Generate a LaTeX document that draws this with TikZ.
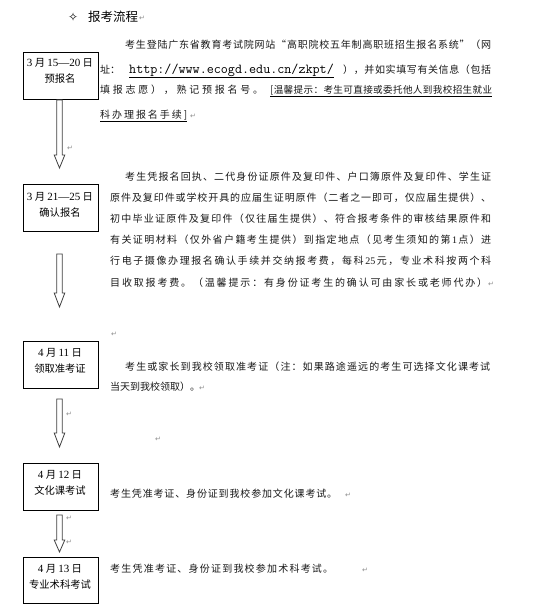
\documentclass[tikz,border=0pt]{standalone}
\usepackage{fontspec}
\newfontfamily\cjk{Noto Sans CJK SC}
\newfontfamily\tms{Liberation Serif}
\newfontfamily\symf{DejaVu Sans}
\usetikzlibrary{calc}
\ExplSyntaxOn
\NewDocumentCommand\spreadtxt{m}
  {
    \bool_set_false:N \l_tmpa_bool
    \tl_map_inline:nn {#1}
      {
        \bool_if:NT \l_tmpa_bool { \hfil }
        \bool_set_true:N \l_tmpa_bool
        {##1}
      }
  }
\ExplSyntaxOff
\tikzset{
  stepbox/.style={draw=black, line width=0.8pt, minimum width=75pt, minimum height=47pt, inner sep=0pt},
  boxtxt/.style={align=center, inner sep=0pt, font=\cjk\fontsize{10.3}{16}\selectfont},
  txt/.style={anchor=base west, inner sep=0pt, font=\cjk\fontsize{10}{12}\selectfont, text=black!90},
  pm/.style={anchor=base west, inner sep=0pt, font=\symf\fontsize{7}{8}\selectfont, text=black!45},
  uline/.style={draw=black, line width=0.7pt},
  barrow/.style={draw=black!75, fill=white, line width=0.8pt, line join=miter}
}
\newcommand\txtline[4]{\node[txt] (#1) at (#2) {\makebox[#3pt][s]{\spreadtxt{#4}}};}
\newcommand\blockarr[4]{% name, top y, head y, tip y
  \coordinate (#1s) at (59.5,#2);
  \coordinate (#1e) at (59.5,#4);
  \draw[barrow] ($(#1s)+(-2.8,0)$) -- ($(#1s)+(2.8,0)$) -- (62.3,#3) -- (64.8,#3) -- (#1e) -- (54.2,#3) -- (56.7,#3) -- cycle;}
\begin{document}
\begin{tikzpicture}[x=1pt,y=-1pt]
\useasboundingbox[fill=white] (0,0) rectangle (558,604);

% title
\node[anchor=base west, inner sep=0pt, font=\symf\fontsize{12}{12}\selectfont] (bullet) at (68,22) {✧};
\node[anchor=base west, inner sep=0pt, font=\cjk\fontsize{12.5}{14}\selectfont] (title) at (88,22) {报考流程};
\node[pm] (pmt) at (139,21) {↵};

% boxes
\node[stepbox] (b1) at (60.5,75.5) {};
\node[stepbox] (b2) at (60.5,208) {};
\node[stepbox] (b3) at (60.5,364.5) {};
\node[stepbox] (b4) at (60.5,487) {};
\node[stepbox, minimum height=46pt] (b5) at (60.5,580) {};

\node[boxtxt] (t1) at (60,71) {{\tms\fontsize{11}{12}\selectfont 3} 月 {\tms\fontsize{11}{12}\selectfont 15—20} 日\\预报名};
\node[boxtxt] (t2) at (60,205) {{\tms\fontsize{11}{12}\selectfont 3} 月 {\tms\fontsize{11}{12}\selectfont 21—25} 日\\确认报名};
\node[boxtxt] (t3) at (60,361) {{\tms\fontsize{11}{12}\selectfont 4} 月 {\tms\fontsize{11}{12}\selectfont 11} 日\\领取准考证};
\node[boxtxt] (t4) at (60,483) {{\tms\fontsize{11}{12}\selectfont 4} 月 {\tms\fontsize{11}{12}\selectfont 12} 日\\文化课考试};
\node[boxtxt] (t5) at (60,577) {{\tms\fontsize{11}{12}\selectfont 4} 月 {\tms\fontsize{11}{12}\selectfont 13} 日\\专业术科考试};

% arrows
\blockarr{aa}{100}{155}{168}
\blockarr{ab}{254}{293}{307}
\blockarr{ac}{399}{433}{447}
\blockarr{ad}{515}{540}{552}

% paragraph 1
\txtline{p1a}{125,49}{366}{考生登陆广东省教育考试院网站“高职院校五年制高职班招生报名系统”（网}
\node[txt] (p1b1) at (100,74) {址：};
\node[anchor=base west, inner sep=0pt, font=\ttfamily\fontsize{13.7}{14}\selectfont] (url) at (129,74) {http://www.ecogd.edu.cn/zkpt/};
\txtline{p1b2}{343,74}{148}{），并如实填写有关信息（包括}
\draw[uline] ($(url.base west)+(0,3)$) -- ($(url.base east)+(0,3)$);
\txtline{p1c1}{100,94}{163}{填报志愿），熟记预报名号。}
\node[txt, font=\cjk\fontsize{9.6}{12}\selectfont] (p1c2) at (270,94) {\makebox[222pt][s]{\spreadtxt{[温馨提示：考生可直接或委托他人到我校招生就业}}};
\draw[uline] ($(p1c2.base west)+(0,2.5)$) -- ($(p1c2.base east)+(0,2.5)$);
\txtline{p1d}{100,119}{87}{科办理报名手续]}
\draw[uline] ($(p1d.base west)+(0,2.5)$) -- ($(p1d.base east)+(0,2.5)$);
\node[pm] (pm1) at (190,119) {↵};
\node[pm] (pm2) at (67,150) {↵};

% paragraph 2
\txtline{p2a}{125,180}{366}{考生凭报名回执、二代身份证原件及复印件、户口簿原件及复印件、学生证}
\txtline{p2b}{110,201}{381}{原件及复印件或学校开具的应届生证明原件（二者之一即可，仅应届生提供）、}
\txtline{p2c}{110,222}{381}{初中毕业证原件及复印件（仅往届生提供）、符合报考条件的审核结果原件和}
\txtline{p2d}{110,243}{381}{有关证明材料（仅外省户籍考生提供）到指定地点（见考生须知的第{\tms 1}点）进}
\txtline{p2e}{110,264}{381}{行电子摄像办理报名确认手续并交纳报考费，每科{\tms 25}元，专业术科按两个科}
\txtline{p2f}{110,286}{377}{目收取报考费。（温馨提示：有身份证考生的确认可由家长或老师代办）}
\node[pm] (pm3) at (488,286) {↵};

% paragraph 3
\node[pm] (pm4) at (111,336) {↵};
\txtline{p3a}{125,370}{365}{考生或家长到我校领取准考证（注：如果路途遥远的考生可选择文化课考试}
\txtline{p3b}{110,390}{88}{当天到我校领取）。}
\node[pm] (pm5) at (199,390) {↵};
\node[pm] (pm6) at (66,416) {↵};
\node[pm] (pm7) at (155,441) {↵};

% paragraph 4
\txtline{p4}{110,497}{227}{考生凭准考证、身份证到我校参加文化课考试。}
\node[pm] (pm8) at (345,497) {↵};
\node[pm] (pm9) at (66,520) {↵};
\node[pm] (pm10) at (66,544) {↵};

% paragraph 5
\txtline{p5}{110,572}{223}{考生凭准考证、身份证到我校参加术科考试。}
\node[pm] (pm11) at (362,572) {↵};
\end{tikzpicture}
\end{document}
